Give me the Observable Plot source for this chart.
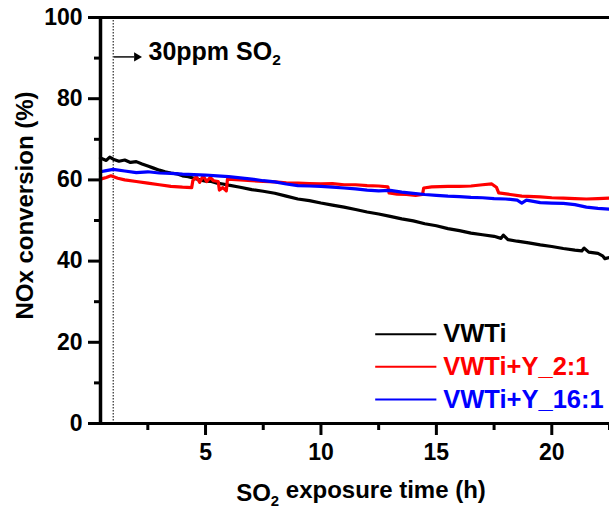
<!DOCTYPE html>
<html><head><meta charset="utf-8">
<script src="https://cdn.jsdelivr.net/npm/d3@7"></script>
<script src="https://cdn.jsdelivr.net/npm/@observablehq/plot@0.6"></script>
<style>body{margin:0;background:#fff;} svg{display:block}</style>
</head><body><div id="chart"></div>
<script>
const seriesNames = ["VWTi", "VWTi+Y_2:1", "VWTi+Y_16:1"];
const seriesColors = ["#000000", "#ff0000", "#0000ff"];

// [time (h), NOx conversion (%)]
const vwti = [
  [0.45,65.4],[0.7,64.8],[0.85,65.6],[1.0,65.1],[1.25,64.6],[1.5,64.9],[1.75,64.3],[2.0,64.5],[2.25,63.9],[2.5,63.4],
  [2.75,62.9],[3.0,62.4],[3.25,62.0],[3.5,61.7],[3.75,61.5],[4.0,61.0],[4.25,60.8],[4.5,60.4],[4.75,60.0],[5.0,59.7],
  [5.25,59.6],[5.5,59.2],[5.75,59.0],[6.0,58.7],[6.5,58.2],[7.0,57.6],[7.5,57.2],[8.0,56.7],[8.5,56.0],[9.0,55.3],
  [9.5,54.9],[10.0,54.3],[10.5,53.8],[11.0,53.3],[11.5,52.7],[12.0,52.1],[12.5,51.6],[13.0,51.0],[13.5,50.4],[14.0,49.9],
  [14.5,49.2],[15.0,48.7],[15.5,48.0],[16.0,47.5],[16.5,46.9],[17.0,46.5],[17.5,46.1],[17.8,45.6],[17.9,46.4],[18.1,45.3],
  [18.5,44.9],[19.0,44.5],[19.5,44.0],[20.0,43.6],[20.5,43.1],[21.0,42.7],[21.3,42.5],[21.4,43.2],[21.6,42.2],[22.0,41.9],
  [22.2,41.3],[22.3,40.6],[22.5,40.9]
];
const vwtiY21 = [
  [0.45,60.2],[0.7,60.6],[0.9,61.0],[1.2,60.4],[1.5,60.0],[2.0,59.6],[2.5,59.2],[3.0,58.8],[3.5,58.4],[4.0,58.2],
  [4.4,58.1],[4.45,59.8],[4.6,60.8],[4.75,59.4],[4.9,61.0],[5.05,59.6],[5.2,60.6],[5.35,59.8],[5.55,59.6],[5.6,57.5],
  [5.75,58.1],[5.9,57.3],[5.95,60.2],[6.5,60.0],[7.0,59.8],[7.5,59.6],[8.0,59.5],[8.5,59.3],[9.0,59.2],[9.5,59.1],
  [10.0,59.0],[10.5,59.1],[11.0,58.8],[11.5,58.8],[12.0,58.6],[12.5,58.5],[12.9,58.3],[12.95,56.8],[13.3,56.5],[13.7,56.4],
  [14.1,56.2],[14.4,56.4],[14.45,58.0],[14.8,58.3],[15.5,58.4],[16.0,58.4],[16.5,58.5],[17.0,58.8],[17.4,59.0],[17.6,58.2],
  [17.7,56.8],[18.2,56.4],[18.7,56.0],[19.5,55.8],[20.0,55.6],[20.5,55.5],[21.0,55.4],[21.5,55.3],[22.0,55.4],[22.5,55.5]
];
const vwtiY161 = [
  [0.45,62.0],[0.7,62.3],[1.0,62.6],[1.5,62.2],[2.0,61.8],[2.5,62.0],[3.0,61.7],[3.5,61.6],[4.0,61.4],[4.5,61.3],
  [5.0,61.2],[5.5,61.0],[6.0,60.8],[6.5,60.5],[7.0,60.2],[7.5,59.8],[8.0,59.5],[8.5,59.0],[9.0,58.6],[9.5,58.5],
  [10.0,58.4],[10.5,58.2],[11.0,58.0],[11.5,57.8],[12.0,57.5],[12.5,57.3],[13.0,57.4],[13.5,57.0],[14.0,56.7],[14.5,56.4],
  [15.0,56.2],[15.5,56.0],[16.0,55.9],[16.5,55.7],[17.0,55.6],[17.5,55.4],[18.0,55.3],[18.5,55.0],[18.7,54.3],[18.9,55.0],
  [19.5,54.4],[20.0,54.3],[20.5,54.2],[21.0,53.9],[21.5,53.3],[22.0,53.0],[22.5,52.8]
];

const yTicks = [0, 20, 40, 60, 80, 100];
const yMinorTicks = [10, 30, 50, 70, 90];
const xTicks = [5, 10, 15, 20];
const xMinorTicks = [2.5, 7.5, 12.5, 17.5, 22.5];
const xDomain = [0.45, 22.5];
const so2Start = 1;
const annotationText = "30ppm SO2";
const xLabel = "SO2 exposure time (h)";
const yLabel = "NOx conversion (%)";

const allSeries = [vwti, vwtiY21, vwtiY161];
const rows = allSeries.flatMap((s, i) => s.map(([t, v]) => ({t, v, name: seriesNames[i]})));

const legendRows = seriesNames.map((name, i) => ({
  name, color: seriesColors[i],
  x1: 12.35, x2: 15.0, xt: 15.3, y: 22.0 - i * 8.05
}));

const font = "'Liberation Sans', Arial, Helvetica, sans-serif";

const plot = Plot.plot({
  width: 609,
  height: 510,
  marginLeft: 100,
  marginRight: 0,
  marginTop: 17,
  marginBottom: 87,
  style: {fontFamily: font, fontWeight: "bold", background: "#fff", color: "#000", overflow: "visible"},
  x: {domain: xDomain},
  y: {domain: [0, 100]},
  color: {domain: seriesNames, range: seriesColors},
  marks: [
    Plot.axisY(yTicks, {tickSize: 12, tickPadding: 6, strokeWidth: 3, fontSize: 23, fontWeight: "bold", label: null}),
    Plot.axisY(yMinorTicks, {tickSize: 6, strokeWidth: 3, tickFormat: () => "", label: null}),
    Plot.axisX(xTicks, {tickSize: 12, tickPadding: 8, strokeWidth: 3, fontSize: 23, fontWeight: "bold", label: null}),
    Plot.axisX(xMinorTicks, {tickSize: 7, strokeWidth: 3, tickFormat: () => "", label: null}),
    Plot.ruleX([so2Start], {stroke: "#000", strokeWidth: 1, strokeDasharray: "1.5,1.5"}),
    Plot.line(rows, {x: "t", y: "v", z: "name", stroke: "name", strokeWidth: 3.2}),
    Plot.ruleY([0], {stroke: "#000", strokeWidth: 3}),
    Plot.ruleY([100], {stroke: "#000", strokeWidth: 3}),
    Plot.ruleX([xDomain[0]], {stroke: "#000", strokeWidth: 3.5}),
    // arrow after SO2 start
    Plot.link([{x1: so2Start + 0.03, x2: 1.9, y: 90.3}], {x1: "x1", x2: "x2", y1: "y", y2: "y", stroke: "#333", strokeWidth: 1.8}),
    Plot.dot([{x: 2.02, y: 90.3}], {x: "x", y: "y", symbol: "triangle", rotate: 90, r: 3.4, fill: "#000", stroke: "none"}),
    Plot.text([annotationText], {x: 2.53, y: 91.6, text: d => d, textAnchor: "start", lineAnchor: "middle", fontSize: 25, fontWeight: "bold", ariaLabel: "annot"}),
    // legend
    Plot.link(legendRows, {x1: "x1", x2: "x2", y1: "y", y2: "y", stroke: "color", strokeWidth: 2}),
    Plot.text(legendRows, {x: "xt", y: "y", text: "name", fill: "color", textAnchor: "start", lineAnchor: "middle", fontSize: 25.5, fontWeight: "bold"}),
    // axis titles
    Plot.text([xLabel], {frameAnchor: "bottom", text: d => d, textAnchor: "middle", dx: 6, dy: 70, lineAnchor: "middle", fontSize: 24, fontWeight: "bold", ariaLabel: "xtitle"}),
    Plot.text([yLabel], {frameAnchor: "left", text: d => d, textAnchor: "middle", rotate: -90, dx: -75, dy: -15, lineAnchor: "middle", fontSize: 24, fontWeight: "bold", ariaLabel: "ytitle"})
  ]
});

document.getElementById("chart").appendChild(plot);

// subscripts for "SO2"
const svg = d3.select(plot);
svg.selectAll("text").each(function() {
  const el = d3.select(this);
  const txt = el.text();
  const i = txt.indexOf("SO2");
  if (i < 0) return;
  const before = txt.slice(0, i + 2);
  const after = txt.slice(i + 3);
  el.text(null);
  el.append("tspan").text(before);
  el.append("tspan").attr("dy", "0.35em").attr("font-size", "0.62em").text("2");
  if (after) el.append("tspan").attr("dy", "-0.35em").text(after);
});
</script>
</body></html>
